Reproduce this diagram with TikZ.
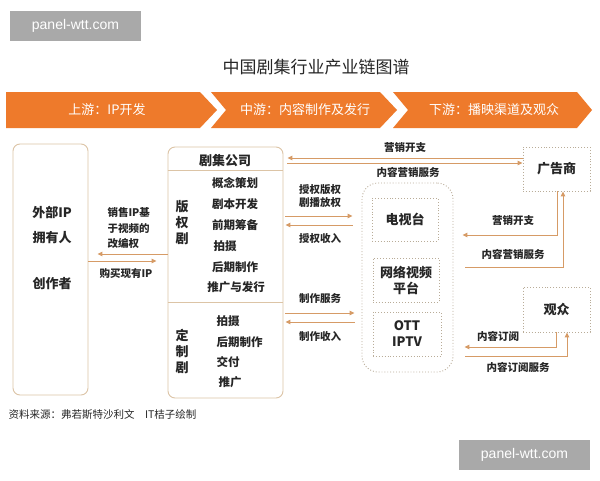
\documentclass[tikz,border=0pt]{standalone}
\usepackage{fontspec}
\setmainfont{Noto Sans CJK SC}
\newfontfamily\wmfont{Liberation Sans}
\usepackage{xcolor}
\usepackage{tikz}
\usetikzlibrary{arrows.meta}

\definecolor{bannerorange}{HTML}{EE7A2B}
\definecolor{boxline}{HTML}{DCC4A6}
\definecolor{dotline}{HTML}{B9AC98}
\definecolor{flowline}{HTML}{D69B66}
\definecolor{textdark}{HTML}{262626}
\definecolor{wmgray}{HTML}{A9A9A9}

\tikzset{
	banner/.style={fill=bannerorange, draw=none},
	bannertext/.style={text=white, font=\fontsize{13}{15}\selectfont},
	roundbox/.style={draw=boxline, line width=0.9pt, rounded corners=7pt, inner sep=0pt},
	dotbox/.style={draw=dotline, dotted, line width=0.9pt, inner sep=0pt},
	bigtext/.style={text=textdark, font=\fontsize{13}{16}\bfseries\selectfont},
	itemtext/.style={text=textdark, font=\fontsize{11.5}{14}\bfseries\selectfont},
	flowlabel/.style={text=textdark, font=\fontsize{10.5}{13}\bfseries\selectfont, align=center},
	flow/.style={draw=flowline, line width=1pt, -{Triangle[length=5pt,width=4.5pt]}},
	watermark/.style={fill=wmgray, text=white, font=\wmfont\fontsize{14}{16}\selectfont,
		minimum width=131, minimum height=30, inner sep=0pt}
}

\begin{document}
\begin{tikzpicture}[x=1pt, y=-1pt]
	\useasboundingbox[fill=white] (0,0) rectangle (600,480);

	% watermarks
	\node[watermark] (wmtop) at (75.5,26) {panel-wtt.com};
	\node[watermark] (wmbottom) at (524.5,455) {panel-wtt.com};

	% title
	\node[text=textdark, font=\fontsize{17}{20}\selectfont] (title) at (316,67) {中国剧集行业产业链图谱};

	% stage banners
	\fill[banner] (6,92) -- (200,92) -- (217,110) -- (200,128) -- (6,128) -- cycle;
	\fill[banner] (211,92) -- (380,92) -- (397,110) -- (380,128) -- (211,128) -- (226,110) -- cycle;
	\fill[banner] (393,92) -- (577,92) -- (592,110) -- (577,128) -- (393,128) -- (408,110) -- cycle;
	\node[bannertext] (upstream) at (107,110) {上游：IP开发};
	\node[bannertext] (midstream) at (305,110) {中游：内容制作及发行};
	\node[bannertext] (downstream) at (494,110) {下游：播映渠道及观众};

	% IP owners
	\node[roundbox, minimum width=75, minimum height=251] (ipowner) at (50.5,269.5) {};
	\node[bigtext] (ipa) at (52,212) {外部IP};
	\node[bigtext] (ipb) at (52,238) {拥有人};
	\node[bigtext] (ipc) at (52,284) {创作者};

	% drama company
	\node[roundbox, minimum width=115, minimum height=251] (company) at (225.5,272.5) {};
	\node[bigtext] (companyhead) at (225,161) {剧集公司};
	\draw[boxline, line width=0.9pt] ([yshift=-24pt]company.north west) -- ([yshift=-24pt]company.north east);
	\draw[boxline, line width=0.9pt] ([yshift=96pt]company.south west) -- ([yshift=96pt]company.south east);
	\node[bigtext, align=center] (copyright) at (182,223) {版\\权\\剧};
	\node[itemtext] (cra) at (235,183) {概念策划};
	\node[itemtext] (crb) at (235,204) {剧本开发};
	\node[itemtext] (crc) at (235,225) {前期筹备};
	\node[itemtext] (crd) at (225,246) {拍摄};
	\node[itemtext] (cre) at (235,267) {后期制作};
	\node[itemtext] (crf) at (236,287) {推广与发行};
	\node[bigtext, align=center] (custom) at (182,351) {定\\制\\剧};
	\node[itemtext, anchor=west] (cua) at (213,321) {拍摄};
	\node[itemtext, anchor=west] (cub) at (213,342) {后期制作};
	\node[itemtext, anchor=west] (cuc) at (213,362) {交付};
	\node[itemtext, anchor=west] (cud) at (215,382) {推广};

	% platforms
	\node[dotbox, rounded corners=16pt, minimum width=91, minimum height=189] (platform) at (407.5,277.5) {};
	\node[dotbox, bigtext, minimum width=66, minimum height=43] (tv) at (405,219.5) {电视台};
	\node[dotbox, bigtext, minimum width=66, minimum height=44, align=center] (netvideo) at (406,280) {网络视频\\平台};
	\node[dotbox, bigtext, minimum width=68, minimum height=44, align=center] (ott) at (407,334) {OTT\\IPTV};

	% advertiser and audience
	\node[dotbox, bigtext, minimum width=67, minimum height=44] (advertiser) at (556.5,169) {广告商};
	\node[dotbox, bigtext, minimum width=67, minimum height=45] (audience) at (556.5,309.5) {观众};

	% IP owner <-> company
	\draw[flow, shorten >=9pt] ([yshift=18.5pt]company.west) -- ([yshift=15.5pt]ipowner.east);
	\draw[flow, shorten >=11pt] ([yshift=8.5pt]ipowner.east) -- ([yshift=11.5pt]company.west);
	\node[flowlabel, align=left, anchor=west] (sellip) at (104,228) {销售IP基\\[2.5pt]于视频的\\[2.5pt]改编权};
	\node[flowlabel] (buyip) at (126,274) {购买现有IP};

	% company <-> advertiser
	\draw[flow, shorten >=4pt] ([yshift=11pt]advertiser.west) -- ([yshift=114.5pt]company.east);
	\draw[flow, shorten <=4pt] ([yshift=109.5pt]company.east) -- ([yshift=6pt]advertiser.west);
	\node[flowlabel] (adspend) at (405,148) {营销开支};
	\node[flowlabel] (adservice) at (408,172) {内容营销服务};

	% company <-> platforms
	\draw[flow, shorten <=2pt, shorten >=9pt] ([yshift=56.5pt]company.east) -- ([yshift=61.5pt]platform.west);
	\draw[flow, shorten <=9pt, shorten >=2pt] ([yshift=52.5pt]platform.west) -- ([yshift=47.5pt]company.east);
	\node[flowlabel] (license) at (320,196) {授权版权\\剧播放权};
	\node[flowlabel] (licenseincome) at (320,239) {授权收入};
	\draw[flow, shorten <=2pt, shorten >=7pt] ([yshift=-40.5pt]company.east) -- ([yshift=-35.5pt]platform.west);
	\draw[flow, shorten <=7pt, shorten >=2pt] ([yshift=-44.5pt]platform.west) -- ([yshift=-49.5pt]company.east);
	\node[flowlabel] (prodservice) at (320,299) {制作服务};
	\node[flowlabel] (prodincome) at (320,337) {制作收入};

	% advertiser <-> platforms
	\draw[flow, shorten >=9pt] ([xshift=0.5pt]advertiser.south) |- ([yshift=42.5pt]platform.east);
	\draw[flow, shorten <=12pt] ([yshift=10.5pt]platform.east) -| ([xshift=6.5pt]advertiser.south);
	\node[flowlabel] (adspendb) at (513,221) {营销开支};
	\node[flowlabel] (adserviceb) at (513,254) {内容营销服务};

	% audience <-> platforms
	\draw[flow, shorten >=11pt] ([xshift=-0.5pt]audience.south) |- ([yshift=-69.5pt]platform.east);
	\draw[flow, shorten <=12pt] ([yshift=-78.5pt]platform.east) -| ([xshift=10.5pt]audience.south);
	\node[flowlabel] (subscribe) at (498,336) {内容订阅};
	\node[flowlabel] (subservice) at (518,367) {内容订阅服务};

	% source
	\node[text=textdark, anchor=west, font=\fontsize{10.5}{13}\selectfont] (source) at (5,415) {资料来源：弗若斯特沙利文\quad IT桔子绘制};
\end{tikzpicture}
\end{document}
